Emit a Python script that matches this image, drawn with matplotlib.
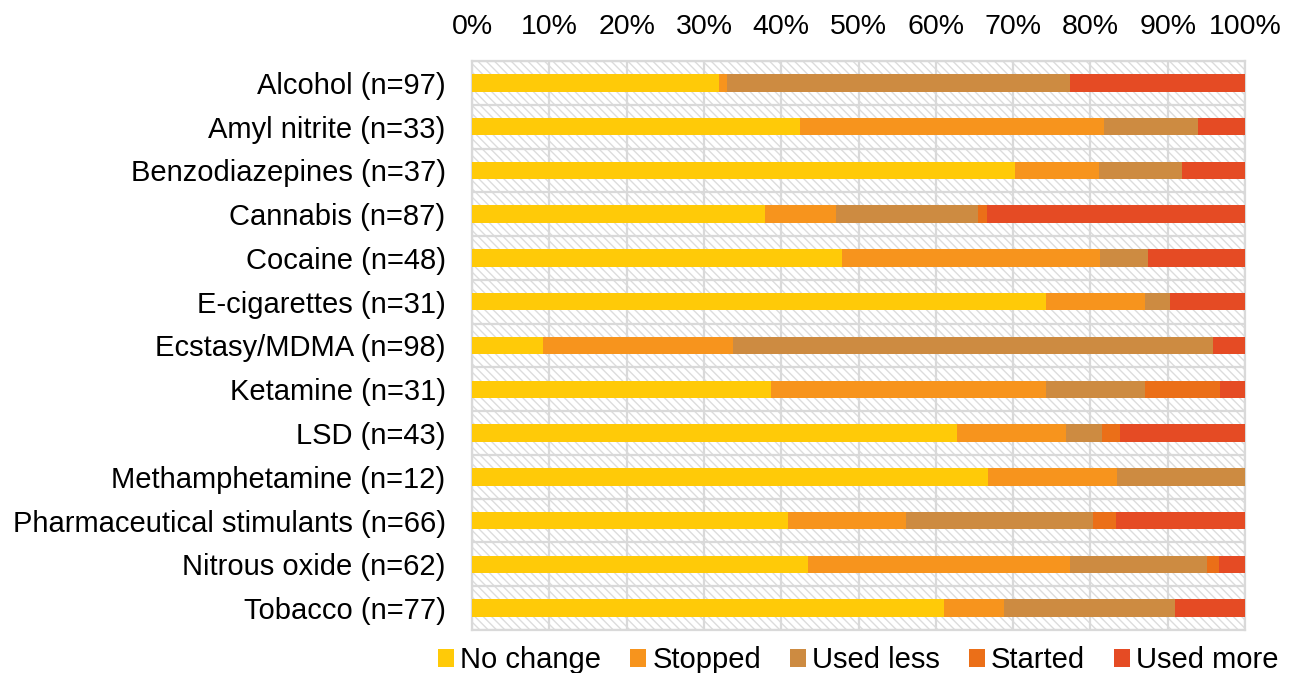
import matplotlib
matplotlib.use('Agg')
import matplotlib.pyplot as plt
import matplotlib.ticker as mticker
from matplotlib.patches import Rectangle
import numpy as np

plt.rcParams['font.family'] = ['Liberation Sans', 'DejaVu Sans']
plt.rcParams['hatch.linewidth'] = 1.0

categories = ['Alcohol (n=97)', 'Amyl nitrite (n=33)', 'Benzodiazepines (n=37)',
              'Cannabis (n=87)', 'Cocaine (n=48)', 'E-cigarettes (n=31)',
              'Ecstasy/MDMA (n=98)', 'Ketamine (n=31)', 'LSD (n=43)',
              'Methamphetamine (n=12)', 'Pharmaceutical stimulants (n=66)',
              'Nitrous oxide (n=62)', 'Tobacco (n=77)']

# percentages
no_change = [32.0, 42.4, 70.3, 37.9, 47.9, 74.2, 9.2, 38.7, 62.8, 66.7, 40.9, 43.5, 61.0]
stopped   = [1.0, 39.4, 10.8, 9.2, 33.3, 12.9, 24.5, 35.5, 14.0, 16.7, 15.2, 33.9, 7.8]
used_less = [44.3, 12.1, 10.8, 18.4, 6.3, 3.2, 62.2, 12.9, 4.7, 16.6, 24.2, 17.7, 22.1]
started   = [0.0, 0.0, 0.0, 1.1, 0.0, 0.0, 0.0, 9.7, 2.3, 0.0, 3.0, 1.6, 0.0]
used_more = [22.7, 6.1, 8.1, 33.4, 12.5, 9.7, 4.1, 3.2, 16.2, 0.0, 16.7, 3.3, 9.1]

series = [('No change', no_change, '#FFCA08'),
          ('Stopped', stopped, '#F7941D'),
          ('Used less', used_less, '#CD8B41'),
          ('Started', started, '#EB6F18'),
          ('Used more', used_more, '#E54B24')]

fig = plt.figure(figsize=(12.99, 6.73), dpi=100)
ax = fig.add_axes([472 / 1299, 1 - 630 / 673, (1245 - 472) / 1299, (630 - 61) / 673])

# hatched plot area background
ax.add_patch(Rectangle((0, 0), 1, 1, transform=ax.transAxes, facecolor='white',
                       edgecolor='#DCDCDC', hatch='\\\\\\\\', linewidth=0, zorder=0))

y = np.arange(len(categories))
left = np.zeros(len(categories))
for name, vals, color in series:
    vals = np.array(vals)
    ax.barh(y, vals, left=left, height=0.4, color=color, label=name, zorder=3)
    left += vals

ax.set_xlim(0, 100)
ax.set_ylim(len(categories) - 0.5, -0.5)
ax.set_yticks(y)
ax.set_yticklabels(categories)
ax.set_xticks(np.arange(0, 101, 10))
ax.xaxis.set_major_formatter(mticker.FuncFormatter(lambda v, _: f'{v:.0f}%'))
ax.xaxis.tick_top()
ax.tick_params(axis='x', length=0, labelsize=20.5, pad=15)
ax.tick_params(axis='y', length=0, labelsize=21, pad=19)

# grid: vertical at ticks, horizontal at category boundaries
for v in np.arange(0, 101, 10):
    ax.axvline(v, color='#D9D9D9', linewidth=1.6, zorder=1)
for b in np.arange(-0.5, len(categories), 1):
    ax.axhline(b, color='#D9D9D9', linewidth=1.6, zorder=1)
for spine in ax.spines.values():
    spine.set_color('#D9D9D9')
    spine.set_linewidth(1.6)

ax.legend(loc='center', bbox_to_anchor=(0.5, -0.053), ncol=5, frameon=False,
          fontsize=21, handlelength=0.55, handleheight=0.55, handletextpad=0.2,
          columnspacing=1.0, borderaxespad=0)

plt.savefig('out.png', dpi=100)
